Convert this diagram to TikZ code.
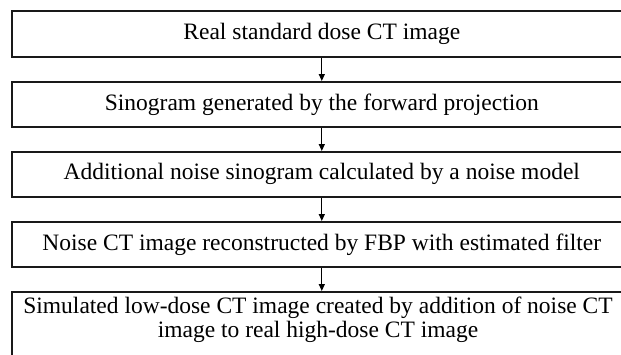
\documentclass[tikz,border=0pt]{standalone}
\usepackage{fontspec}
\setmainfont{Liberation Serif}
\usetikzlibrary{arrows.meta}
\tikzset{
  stepbox/.style={draw=black!90, line width=1.6pt, rectangle, anchor=north west,
    minimum width=620pt, minimum height=45pt, inner sep=0pt,
    font=\fontsize{23.5}{26}\selectfont},
  flowarrow/.style={line width=1.2pt, -{Triangle[length=7pt,width=6pt]}},
  boxtext/.style={font=\fontsize{23.5}{24}\selectfont, align=center, inner sep=0pt}
}
\begin{document}
\begin{tikzpicture}[x=1pt,y=-1pt]
\useasboundingbox (0,0) rectangle (621,354);
\clip (0,0) rectangle (621,354);
\fill[white] (0,0) rectangle (621,354);
\node[stepbox, minimum height=46pt] (b1) at (11,10) {Real standard dose CT image};
\node[stepbox] (b2) at (11,81) {Sinogram generated by the forward projection};
\node[stepbox] (b3) at (11,151) {Additional noise sinogram calculated by a noise model};
\node[stepbox] (b4) at (11,221) {Noise CT image reconstructed by FBP with estimated filter};
\node[stepbox, minimum height=80pt] (b5) at (11,291) {};
\node[boxtext, anchor=north] (t5) at (318,297) {Simulated low-dose CT image created by addition of noise CT\\image to real high-dose CT image};
\draw[flowarrow] (b1.south) -- (b2.north);
\draw[flowarrow] (b2.south) -- (b3.north);
\draw[flowarrow] (b3.south) -- (b4.north);
\draw[flowarrow] (b4.south) -- (b5.north);
\end{tikzpicture}
\end{document}
